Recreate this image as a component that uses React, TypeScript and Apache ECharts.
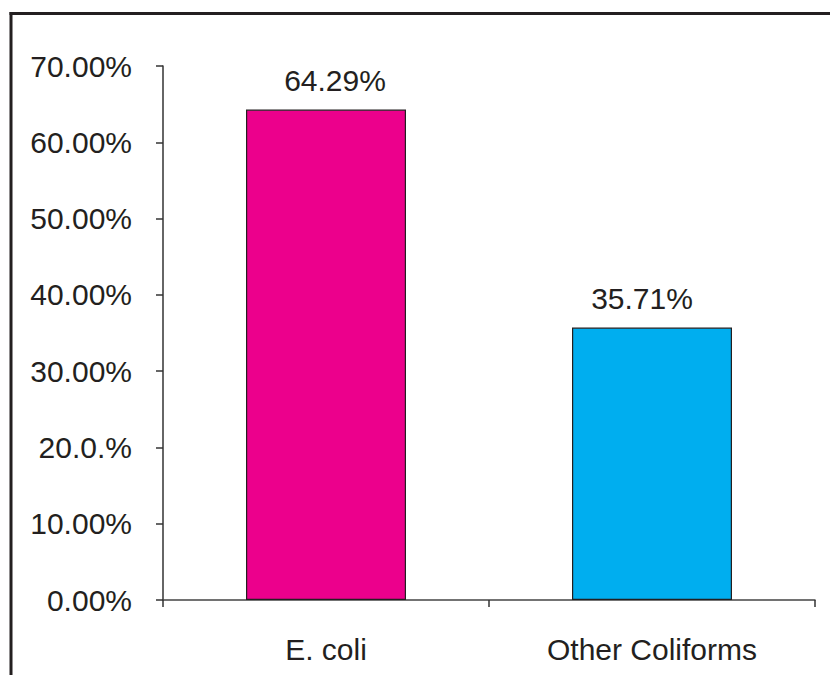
import React, { useEffect, useRef } from "react";
import * as echarts from "echarts";

const categories = ["E. coli", "Other Coliforms"];
const values = [64.29, 35.71];
const barColors = ["#EC008C", "#00AEEF"];
const labelShiftX = [9, -10];
const yTickLabels: Record<number, string> = {
  0: "0.00%",
  10: "10.00%",
  20: "20.0.%",
  30: "30.00%",
  40: "40.00%",
  50: "50.00%",
  60: "60.00%",
  70: "70.00%",
};

export default function App() {
  const ref = useRef<HTMLDivElement>(null);
  useEffect(() => {
    if (!ref.current) return;
    const chart = echarts.init(ref.current, undefined, { renderer: "svg" });
    const font = "Liberation Sans, Arial, sans-serif";
    const textColor = "#231f20";
    chart.setOption({
      animation: false,
      backgroundColor: "#ffffff",
      grid: { left: 163, right: 15, top: 66, bottom: 75, containLabel: false },
      xAxis: {
        type: "category",
        data: categories,
        axisLine: { show: true, lineStyle: { color: "#444", width: 1.5 } },
        axisTick: { show: true, alignWithLabel: false, length: 7, lineStyle: { color: "#333", width: 1.5 } },
        axisLabel: { color: textColor, fontSize: 30, fontFamily: font, margin: 34 },
        splitLine: { show: false },
      },
      yAxis: {
        type: "value",
        min: 0,
        max: 70,
        interval: 10,
        axisLine: { show: true, lineStyle: { color: "#333", width: 1.5 } },
        axisTick: { show: true, length: 7, lineStyle: { color: "#333", width: 1.5 } },
        axisLabel: {
          color: textColor,
          fontSize: 30,
          fontFamily: font,
          margin: 31,
          formatter: (v: number) => yTickLabels[v] ?? "",
        },
        splitLine: { show: false },
      },
      series: [
        {
          type: "bar",
          barWidth: 160,
          data: values.map((v, i) => ({
            value: v,
            itemStyle: { color: barColors[i], borderColor: "#231f20", borderWidth: 1.2 },
            label: { offset: [labelShiftX[i], 0] },
          })),
          label: {
            show: true,
            position: "top",
            distance: 14,
            color: textColor,
            fontSize: 30,
            fontFamily: font,
            formatter: (p: any) => p.value.toFixed(2) + "%",
          },
        },
      ],
      graphic: [
        { type: "line", shape: { x1: 9.5, y1: 13.5, x2: 830, y2: 13.5 }, style: { stroke: "#231f20", lineWidth: 3 } },
        { type: "line", shape: { x1: 11, y1: 12, x2: 11, y2: 675 }, style: { stroke: "#231f20", lineWidth: 3 } },
      ],
    });
    return () => chart.dispose();
  }, []);
  return (
    <div
      ref={ref}
      style={{ position: "fixed", left: 0, top: 0, width: 830, height: 675 }}
    />
  );
}
